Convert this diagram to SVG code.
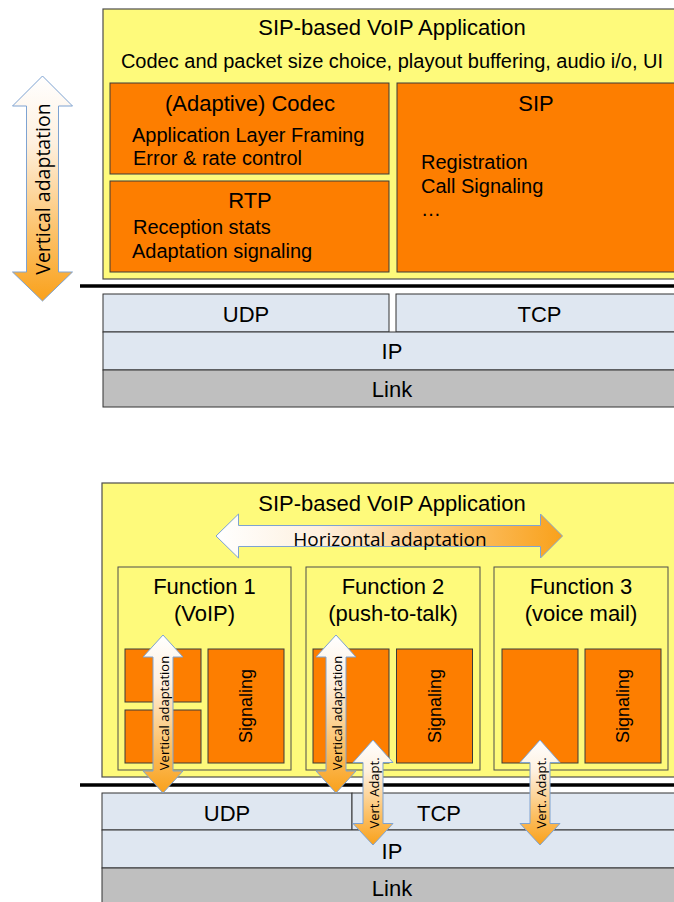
<svg xmlns="http://www.w3.org/2000/svg" width="674" height="902" viewBox="0 0 674 902">
  <defs>
    <linearGradient id="gradV" x1="0" y1="0" x2="0" y2="1">
      <stop offset="0" stop-color="#ffffff"/>
      <stop offset="0.3" stop-color="#fef0df"/>
      <stop offset="0.7" stop-color="#fcc168"/>
      <stop offset="1" stop-color="#f9a11b"/>
    </linearGradient>
    <linearGradient id="gradH" x1="0" y1="0" x2="1" y2="0">
      <stop offset="0" stop-color="#ffffff"/>
      <stop offset="0.3" stop-color="#fef0df"/>
      <stop offset="0.7" stop-color="#fcc168"/>
      <stop offset="1" stop-color="#f9a11b"/>
    </linearGradient>
    <style>
      .app { fill: #fefa7b; stroke: #4d4d4d; stroke-width: 1.2; }
      .func { fill: #fefa7b; stroke: #4d4d4d; stroke-width: 1; }
      .mod { fill: #fd7e00; stroke: #3a3a3a; stroke-width: 1; }
      .net { fill: #dfe7f1; stroke: #333333; stroke-width: 1; }
      .link { fill: #bfbfbf; stroke: #333333; stroke-width: 1; }
      .sep { stroke: #000000; stroke-width: 3.5; fill: none; }
      .t { font-family: "Liberation Sans", Arial, sans-serif; fill: #000000; }
      .c { text-anchor: middle; }
      .arrV { fill: url(#gradV); stroke: #7ea3d2; stroke-width: 1; }
      .arrH { fill: url(#gradH); stroke: #7ea3d2; stroke-width: 1; }
      .al { font-family: "Open Sans", "DejaVu Sans", sans-serif; fill: #000000; text-anchor: middle; }
    </style>
  </defs>

  <!-- ===== Upper stack: monolithic application ===== -->
  <g id="app-top">
    <rect class="app" x="103" y="9" width="581" height="270"/>
    <text class="t c" x="392" y="35" font-size="22">SIP-based VoIP Application</text>
    <text class="t c" x="392" y="68" font-size="20">Codec and packet size choice, playout buffering, audio i/o, UI</text>
  </g>
  <g id="codec-top">
    <rect class="mod" x="110" y="83" width="279" height="91"/>
    <text class="t c" x="250" y="111" font-size="22">(Adaptive) Codec</text>
    <text class="t" x="132" y="142" font-size="20">Application Layer Framing</text>
    <text class="t" x="133" y="165" font-size="20">Error &amp; rate control</text>
  </g>
  <g id="rtp-top">
    <rect class="mod" x="110" y="181" width="279" height="91"/>
    <text class="t c" x="250" y="208" font-size="22">RTP</text>
    <text class="t" x="133" y="234" font-size="20">Reception stats</text>
    <text class="t" x="132" y="258" font-size="20">Adaptation signaling</text>
  </g>
  <g id="sip-top">
    <rect class="mod" x="397" y="83" width="279" height="189"/>
    <text class="t c" x="536" y="111" font-size="22">SIP</text>
    <text class="t" x="421" y="169" font-size="20">Registration</text>
    <text class="t" x="421" y="193" font-size="20">Call Signaling</text>
    <text class="t" x="421" y="216" font-size="20">…</text>
  </g>
  <g id="udp-top">
    <rect class="net" x="103" y="294" width="286" height="38"/>
    <text class="t c" x="246" y="321.5" font-size="22">UDP</text>
  </g>
  <g id="tcp-top">
    <rect class="net" x="396" y="294" width="290" height="38"/>
    <text class="t c" x="539.5" y="321.5" font-size="22">TCP</text>
  </g>
  <g id="ip-top">
    <rect class="net" x="103" y="332" width="583" height="38"/>
    <text class="t c" x="392" y="358.5" font-size="22">IP</text>
  </g>
  <g id="link-top">
    <rect class="link" x="103" y="370" width="583" height="37"/>
    <text class="t c" x="392" y="397" font-size="22">Link</text>
  </g>
  <line class="sep" x1="80" y1="286" x2="680" y2="286"/>

  <!-- ===== Lower stack: application split into functions ===== -->
  <g id="app-bottom">
    <rect class="app" x="102" y="483" width="582" height="294"/>
    <text class="t c" x="392" y="511" font-size="22">SIP-based VoIP Application</text>
  </g>
  <g id="function-1">
    <rect class="func" x="118" y="567" width="173" height="203"/>
    <text class="t c" x="204.5" y="594" font-size="22">Function 1</text>
    <text class="t c" x="204.5" y="621" font-size="22">(VoIP)</text>
    <rect class="mod" x="125" y="649" width="76" height="53"/>
    <rect class="mod" x="125" y="710" width="76" height="53"/>
    <rect class="mod" x="208" y="649" width="76" height="114"/>
    <text class="t c" transform="translate(252,706) rotate(-90)" font-size="18">Signaling</text>
  </g>
  <g id="function-2">
    <rect class="func" x="306" y="567" width="174" height="203"/>
    <text class="t c" x="393" y="594" font-size="22">Function 2</text>
    <text class="t c" x="393" y="621" font-size="22">(push-to-talk)</text>
    <rect class="mod" x="313" y="649" width="76" height="114"/>
    <rect class="mod" x="396.5" y="649" width="76" height="114"/>
    <text class="t c" transform="translate(440.5,706) rotate(-90)" font-size="18">Signaling</text>
  </g>
  <g id="function-3">
    <rect class="func" x="494" y="567" width="174" height="203"/>
    <text class="t c" x="581" y="594" font-size="22">Function 3</text>
    <text class="t c" x="581" y="621" font-size="22">(voice mail)</text>
    <rect class="mod" x="502" y="649" width="76" height="114"/>
    <rect class="mod" x="585" y="649" width="76" height="114"/>
    <text class="t c" transform="translate(629,706) rotate(-90)" font-size="18">Signaling</text>
  </g>
  <g id="udp-bottom">
    <rect class="net" x="102" y="793" width="250" height="37"/>
    <text class="t c" x="227" y="821" font-size="22">UDP</text>
  </g>
  <g id="tcp-bottom">
    <rect class="net" x="352" y="793" width="334" height="37"/>
    <text class="t c" x="439" y="821" font-size="22">TCP</text>
  </g>
  <g id="ip-bottom">
    <rect class="net" x="102" y="830" width="584" height="38"/>
    <text class="t c" x="392" y="859" font-size="22">IP</text>
  </g>
  <g id="link-bottom">
    <rect class="link" x="102" y="868" width="584" height="40"/>
    <text class="t c" x="392" y="896" font-size="22">Link</text>
  </g>
  <line class="sep" x1="80" y1="785" x2="680" y2="785"/>

  <!-- ===== Adaptation arrows ===== -->
  <g id="connectors">
    <g id="arrow-vertical-top">
      <path class="arrV" d="M42.5,76 L72.5,106 L58.5,106 L58.5,272 L72.5,272 L42.5,301 L12.5,272 L26.5,272 L26.5,106 L12.5,106 Z"/>
      <text class="al" transform="translate(50,189) rotate(-90)" font-size="19.5">Vertical adaptation</text>
    </g>
    <g id="arrow-horizontal">
      <path class="arrH" d="M216,536 L238.5,514 L238.5,525.5 L540.5,525.5 L540.5,514 L562.5,536 L540.5,558 L540.5,546.5 L238.5,546.5 L238.5,558 Z"/>
      <text class="al" x="390" y="546" font-size="19">Horizontal adaptation</text>
    </g>
    <g id="arrow-f1">
      <path class="arrV" d="M163,635 L183,657 L173,657 L173,771 L183,771 L163,793 L143,771 L153,771 L153,657 L143,657 Z"/>
      <text class="al" transform="translate(168.5,713) rotate(-90)" font-size="13">Vertical adaptation</text>
    </g>
    <g id="arrow-f2">
      <path class="arrV" d="M336,635 L356,657 L346,657 L346,771 L356,771 L336,793 L316,771 L326,771 L326,657 L316,657 Z"/>
      <text class="al" transform="translate(341.5,713) rotate(-90)" font-size="13">Vertical adaptation</text>
    </g>
    <g id="arrow-f2-tcp">
      <path class="arrV" d="M373,740 L393,762.5 L383,762.5 L383,823.5 L393,823.5 L373,845 L353,823.5 L363,823.5 L363,762.5 L353,762.5 Z"/>
      <text class="al" transform="translate(378.5,793) rotate(-90)" font-size="13">Vert. Adapt.</text>
    </g>
    <g id="arrow-f3-tcp">
      <path class="arrV" d="M540,740 L560,762.5 L550,762.5 L550,823.5 L560,823.5 L540,845 L520,823.5 L530,823.5 L530,762.5 L520,762.5 Z"/>
      <text class="al" transform="translate(545.5,793) rotate(-90)" font-size="13">Vert. Adapt.</text>
    </g>
  </g>
</svg>
